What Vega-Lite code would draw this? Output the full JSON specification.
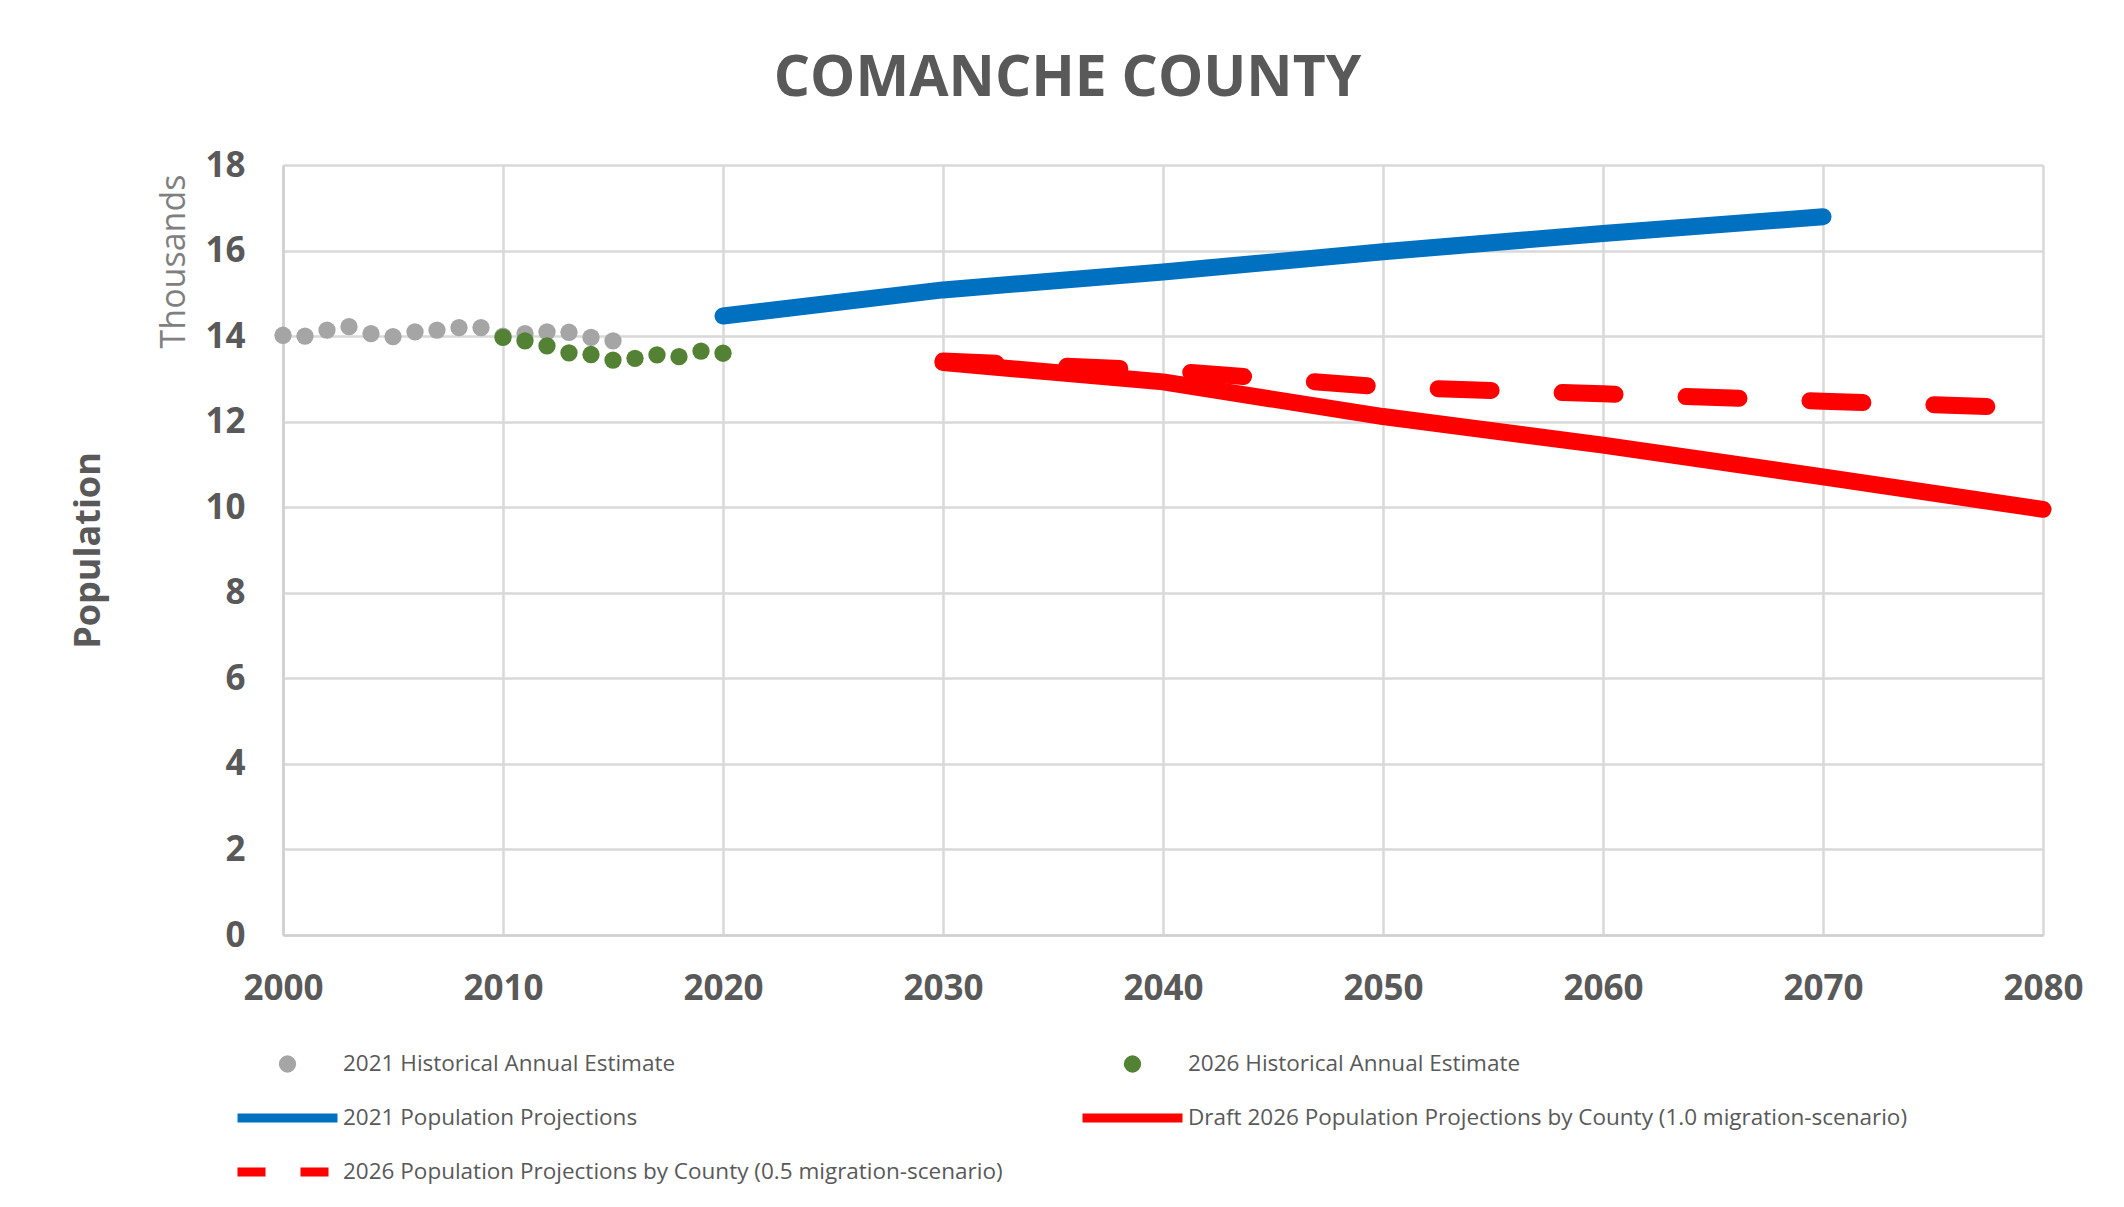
{
  "$schema": "https://vega.github.io/schema/vega-lite/v6.json",
  "autosize": {"type": "none"},
  "padding": {"left": 283, "top": 165, "right": 81, "bottom": 272},
  "width": 1760,
  "height": 770,
  "background": "white",
  "title": {
    "text": "COMANCHE COUNTY",
    "font": "Open Sans",
    "fontSize": 57,
    "fontWeight": "bold",
    "color": "#595959",
    "anchor": "middle",
    "frame": "bounds",
    "offset": 40,
    "dx": -9
  },
  "datasets": {
    "pop": [
      {"series": "2021 Historical Annual Estimate", "year": 2000, "value": 14.02},
      {"series": "2021 Historical Annual Estimate", "year": 2001, "value": 14.0},
      {"series": "2021 Historical Annual Estimate", "year": 2002, "value": 14.14},
      {"series": "2021 Historical Annual Estimate", "year": 2003, "value": 14.22},
      {"series": "2021 Historical Annual Estimate", "year": 2004, "value": 14.06},
      {"series": "2021 Historical Annual Estimate", "year": 2005, "value": 13.99},
      {"series": "2021 Historical Annual Estimate", "year": 2006, "value": 14.1},
      {"series": "2021 Historical Annual Estimate", "year": 2007, "value": 14.14},
      {"series": "2021 Historical Annual Estimate", "year": 2008, "value": 14.2},
      {"series": "2021 Historical Annual Estimate", "year": 2009, "value": 14.2},
      {"series": "2021 Historical Annual Estimate", "year": 2010, "value": 14.0},
      {"series": "2021 Historical Annual Estimate", "year": 2011, "value": 14.06},
      {"series": "2021 Historical Annual Estimate", "year": 2012, "value": 14.1},
      {"series": "2021 Historical Annual Estimate", "year": 2013, "value": 14.09},
      {"series": "2021 Historical Annual Estimate", "year": 2014, "value": 13.97},
      {"series": "2021 Historical Annual Estimate", "year": 2015, "value": 13.89},
      {"series": "2026 Historical Annual Estimate", "year": 2010, "value": 13.97},
      {"series": "2026 Historical Annual Estimate", "year": 2011, "value": 13.89},
      {"series": "2026 Historical Annual Estimate", "year": 2012, "value": 13.77},
      {"series": "2026 Historical Annual Estimate", "year": 2013, "value": 13.61},
      {"series": "2026 Historical Annual Estimate", "year": 2014, "value": 13.57},
      {"series": "2026 Historical Annual Estimate", "year": 2015, "value": 13.44},
      {"series": "2026 Historical Annual Estimate", "year": 2016, "value": 13.48},
      {"series": "2026 Historical Annual Estimate", "year": 2017, "value": 13.56},
      {"series": "2026 Historical Annual Estimate", "year": 2018, "value": 13.52},
      {"series": "2026 Historical Annual Estimate", "year": 2019, "value": 13.65},
      {"series": "2026 Historical Annual Estimate", "year": 2020, "value": 13.6}
    ],
    "proj": [
      {"series": "2021 Population Projections", "year": 2020, "value": 14.47},
      {"series": "2021 Population Projections", "year": 2030, "value": 15.08},
      {"series": "2021 Population Projections", "year": 2040, "value": 15.5},
      {"series": "2021 Population Projections", "year": 2050, "value": 15.97},
      {"series": "2021 Population Projections", "year": 2060, "value": 16.4},
      {"series": "2021 Population Projections", "year": 2070, "value": 16.79},
      {"series": "Draft 2026 Population Projections by County (1.0 migration-scenario)", "year": 2030, "value": 13.38},
      {"series": "Draft 2026 Population Projections by County (1.0 migration-scenario)", "year": 2040, "value": 12.93},
      {"series": "Draft 2026 Population Projections by County (1.0 migration-scenario)", "year": 2050, "value": 12.12},
      {"series": "Draft 2026 Population Projections by County (1.0 migration-scenario)", "year": 2060, "value": 11.45},
      {"series": "Draft 2026 Population Projections by County (1.0 migration-scenario)", "year": 2070, "value": 10.71},
      {"series": "Draft 2026 Population Projections by County (1.0 migration-scenario)", "year": 2080, "value": 9.95}
    ],
    "dash": [
      {"series": "2026 Population Projections by County (0.5 migration-scenario)", "year": 2030, "value": 13.42},
      {"series": "2026 Population Projections by County (0.5 migration-scenario)", "year": 2040, "value": 13.2},
      {"series": "2026 Population Projections by County (0.5 migration-scenario)", "year": 2050, "value": 12.81},
      {"series": "2026 Population Projections by County (0.5 migration-scenario)", "year": 2060, "value": 12.65},
      {"series": "2026 Population Projections by County (0.5 migration-scenario)", "year": 2070, "value": 12.48},
      {"series": "2026 Population Projections by County (0.5 migration-scenario)", "year": 2080, "value": 12.31}
    ]
  },
  "layer": [
    {
      "data": {"name": "pop"},
      "mark": {"type": "point", "filled": true, "opacity": 1},
      "encoding": {
        "x": {
          "field": "year", "type": "quantitative",
          "scale": {"domain": [2000, 2080], "nice": false, "zero": false},
          "axis": {"values": [2000, 2010, 2020, 2030, 2040, 2050, 2060, 2070, 2080], "format": "d", "title": null, "labelPadding": 36, "labelFlush": false}
        },
        "y": {
          "field": "value", "type": "quantitative",
          "scale": {"domain": [0, 18], "nice": false},
          "axis": {
            "orient": "left",
            "values": [0, 2, 4, 6, 8, 10, 12, 14, 16, 18],
            "title": "Population",
            "titleFont": "Open Sans",
            "titleFontSize": 36,
            "titleFontWeight": "bold",
            "titleColor": "#595959",
            "titleX": -176,
            "titleY": 385
          }
        },
        "color": {
          "field": "series", "type": "nominal",
          "scale": {
            "domain": ["2021 Historical Annual Estimate", "2026 Historical Annual Estimate", "2021 Population Projections", "Draft 2026 Population Projections by County (1.0 migration-scenario)", "2026 Population Projections by County (0.5 migration-scenario)"],
            "range": ["#A5A5A5", "#548235", "#0070C0", "#FF0000", "#FF0000"]
          },
          "legend": {
            "orient": "none", "legendX": -50, "legendY": 886, "direction": "horizontal", "columns": 2, "title": null,
            "clipHeight": 26,
            "labelFont": "Open Sans", "labelFontSize": 22.5, "labelColor": "#595959", "labelOffset": 1, "labelLimit": 1000,
            "rowPadding": 28, "columnPadding": 75
          }
        },
        "shape": {
          "field": "series", "type": "nominal",
          "scale": {
            "type": "ordinal",
            "domain": ["2021 Historical Annual Estimate", "2026 Historical Annual Estimate", "2021 Population Projections", "Draft 2026 Population Projections by County (1.0 migration-scenario)", "2026 Population Projections by County (0.5 migration-scenario)"],
            "range": ["circle", "circle", "stroke", "stroke", "stroke"]
          }
        },
        "size": {
          "field": "series", "type": "nominal",
          "scale": {
            "type": "ordinal",
            "domain": ["2021 Historical Annual Estimate", "2026 Historical Annual Estimate", "2021 Population Projections", "Draft 2026 Population Projections by County (1.0 migration-scenario)", "2026 Population Projections by County (0.5 migration-scenario)"],
            "range": [300, 300, 10000, 10000, 10000]
          }
        },
        "strokeWidth": {
          "field": "series", "type": "nominal",
          "scale": {
            "type": "ordinal",
            "domain": ["2021 Historical Annual Estimate", "2026 Historical Annual Estimate", "2021 Population Projections", "Draft 2026 Population Projections by County (1.0 migration-scenario)", "2026 Population Projections by County (0.5 migration-scenario)"],
            "range": [0, 0, 9, 9, 9]
          }
        },
        "strokeDash": {
          "field": "series", "type": "nominal",
          "scale": {
            "type": "ordinal",
            "domain": ["2021 Historical Annual Estimate", "2026 Historical Annual Estimate", "2021 Population Projections", "Draft 2026 Population Projections by County (1.0 migration-scenario)", "2026 Population Projections by County (0.5 migration-scenario)"],
            "range": [[1, 0], [1, 0], [1, 0], [1, 0], [28, 35]]
          }
        }
      }
    },
    {
      "data": {"name": "proj"},
      "mark": {"type": "line", "strokeWidth": 17, "strokeCap": "round", "strokeJoin": "round"},
      "encoding": {
        "x": {"field": "year", "type": "quantitative"},
        "y": {
          "field": "value", "type": "quantitative",
          "axis": {
            "orient": "left",
            "labels": false,
            "grid": false,
            "domain": false,
            "ticks": false,
            "title": "Thousands",
            "titleFont": "Open Sans",
            "titleFontSize": 34,
            "titleFontWeight": "normal",
            "titleColor": "#7F7F7F",
            "titleX": -92,
            "titleY": 96
          }
        },
        "color": {"field": "series", "type": "nominal"}
      }
    },
    {
      "data": {"name": "dash"},
      "mark": {"type": "line", "strokeWidth": 17, "strokeCap": "round", "strokeJoin": "round", "strokeDash": [53, 71]},
      "encoding": {
        "x": {"field": "year", "type": "quantitative"},
        "y": {"field": "value", "type": "quantitative", "axis": null},
        "color": {"field": "series", "type": "nominal"}
      }
    }
  ],
  "resolve": {"axis": {"y": "independent"}},
  "config": {
    "font": "Open Sans",
    "view": {"stroke": null},
    "axis": {
      "labelFont": "Open Sans",
      "labelFontSize": 35,
      "labelFontWeight": "bold",
      "labelColor": "#595959",
      "grid": true,
      "gridColor": "#D9D9D9",
      "gridWidth": 2.5,
      "domainColor": "#D0D0D0",
      "domainWidth": 2.5,
      "ticks": false
    },
    "axisY": {"labelPadding": 38}
  }
}
